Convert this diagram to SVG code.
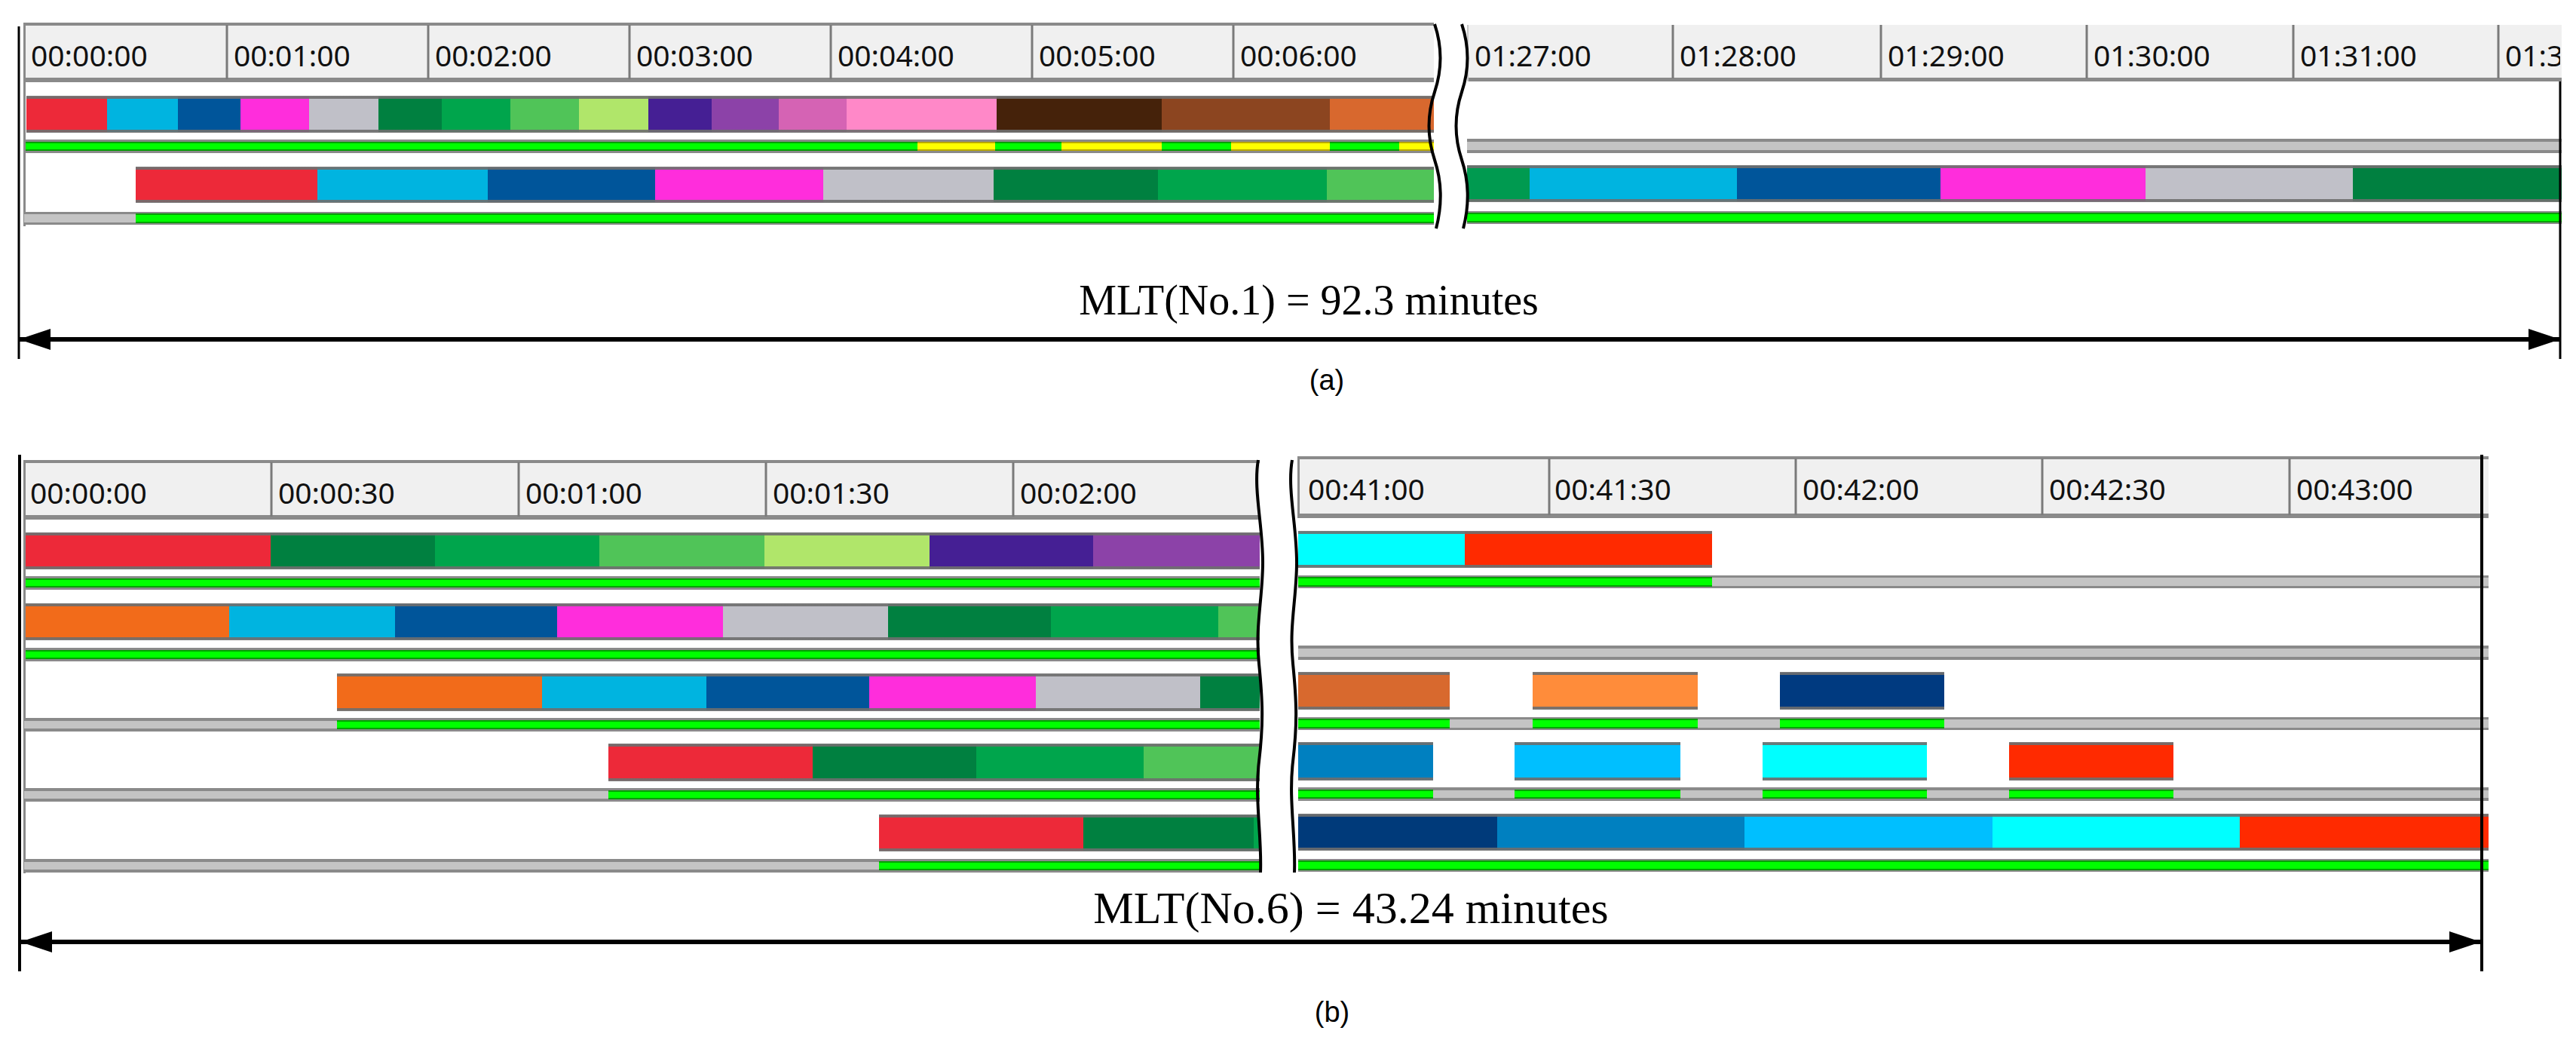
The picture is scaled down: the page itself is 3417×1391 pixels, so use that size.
<svg xmlns="http://www.w3.org/2000/svg" width="3417" height="1391" viewBox="0 0 3417 1391">
<style>
.hd{fill:#f0f0f0}
.hb{fill:#8a8a8a}
.dv{stroke:#7a7a7a;stroke-width:3}
.tl{font-family:"Noto Sans","Liberation Sans",sans-serif;font-size:39px;fill:#111}
.cap{font-family:"Liberation Serif",serif;fill:#000}
.sub{font-family:"Liberation Sans",sans-serif;font-size:38px;fill:#000}
.g{fill:url(#gG)}
.y{fill:url(#gY)}
.n{fill:url(#gN)}
.ov{fill:url(#gE)}
.brk{fill:none;stroke:#000;stroke-width:4}
.vl{stroke:#000;stroke-width:3}
.ar{stroke:#000;stroke-width:6;marker-start:url(#ah);marker-end:url(#ah)}
</style>
<defs>
<linearGradient id="gG" x1="0" y1="0" x2="0" y2="1">
<stop offset="0" stop-color="#8a8a8a"/><stop offset="0.14" stop-color="#8a8a8a"/>
<stop offset="0.14" stop-color="#00a000"/><stop offset="0.26" stop-color="#00a000"/>
<stop offset="0.26" stop-color="#00ff00"/><stop offset="0.74" stop-color="#00ff00"/>
<stop offset="0.74" stop-color="#00a000"/><stop offset="0.86" stop-color="#00a000"/>
<stop offset="0.86" stop-color="#8a8a8a"/><stop offset="1" stop-color="#8a8a8a"/>
</linearGradient>
<linearGradient id="gY" x1="0" y1="0" x2="0" y2="1">
<stop offset="0" stop-color="#8a8a8a"/><stop offset="0.14" stop-color="#8a8a8a"/>
<stop offset="0.14" stop-color="#b8a800"/><stop offset="0.26" stop-color="#b8a800"/>
<stop offset="0.26" stop-color="#ffff00"/><stop offset="0.74" stop-color="#ffff00"/>
<stop offset="0.74" stop-color="#b8a800"/><stop offset="0.86" stop-color="#b8a800"/>
<stop offset="0.86" stop-color="#8a8a8a"/><stop offset="1" stop-color="#8a8a8a"/>
</linearGradient>
<linearGradient id="gN" x1="0" y1="0" x2="0" y2="1">
<stop offset="0" stop-color="#8a8a8a"/><stop offset="0.2" stop-color="#8a8a8a"/>
<stop offset="0.2" stop-color="#c4c4c4"/><stop offset="0.8" stop-color="#c4c4c4"/>
<stop offset="0.8" stop-color="#8a8a8a"/><stop offset="1" stop-color="#8a8a8a"/>
</linearGradient>
<linearGradient id="gE" x1="0" y1="0" x2="0" y2="1">
<stop offset="0" stop-color="#6e6e6e" stop-opacity="0.9"/><stop offset="0.08" stop-color="#6e6e6e" stop-opacity="0.9"/>
<stop offset="0.08" stop-color="#6e6e6e" stop-opacity="0"/><stop offset="0.92" stop-color="#6e6e6e" stop-opacity="0"/>
<stop offset="0.92" stop-color="#6e6e6e" stop-opacity="0.9"/><stop offset="1" stop-color="#6e6e6e" stop-opacity="0.9"/>
</linearGradient>
<marker id="ah" markerUnits="userSpaceOnUse" markerWidth="42" markerHeight="30" viewBox="0 0 42 30" refX="41" refY="15" orient="auto-start-reverse">
<path d="M0,1 L42,15 L0,29 z" fill="#000"/>
</marker>
<clipPath id="clipAR"><rect x="1946" y="30" width="1450" height="80"/></clipPath>
</defs>
<rect width="3417" height="1391" fill="#fff"/>

<!-- ================= PANEL A ================= -->
<g id="a-header-left">
<rect class="hd" x="32" y="31" width="1870" height="77"/>
<rect class="hb" x="32" y="30" width="1870" height="4"/>
<rect class="hb" x="32" y="103" width="1870" height="6"/>
<rect class="hb" x="31" y="30" width="3" height="79"/>
<line class="dv" x1="301" y1="33" x2="301" y2="105"/>
<line class="dv" x1="568" y1="33" x2="568" y2="105"/>
<line class="dv" x1="835" y1="33" x2="835" y2="105"/>
<line class="dv" x1="1102" y1="33" x2="1102" y2="105"/>
<line class="dv" x1="1369" y1="33" x2="1369" y2="105"/>
<line class="dv" x1="1636" y1="33" x2="1636" y2="105"/>
<text class="tl" x="41" y="88">00:00:00</text>
<text class="tl" x="310" y="88">00:01:00</text>
<text class="tl" x="577" y="88">00:02:00</text>
<text class="tl" x="844" y="88">00:03:00</text>
<text class="tl" x="1111" y="88">00:04:00</text>
<text class="tl" x="1378" y="88">00:05:00</text>
<text class="tl" x="1645" y="88">00:06:00</text>
</g>
<g id="a-header-right">
<rect class="hd" x="1946" y="33" width="1452" height="75"/>
<rect class="hb" x="1946" y="103" width="1452" height="5"/>
<rect fill="#c8c8c8" x="1946" y="33" width="2" height="75"/>
<line class="dv" x1="2219" y1="33" x2="2219" y2="104"/>
<line class="dv" x1="2495" y1="33" x2="2495" y2="104"/>
<line class="dv" x1="2768" y1="33" x2="2768" y2="104"/>
<line class="dv" x1="3042" y1="33" x2="3042" y2="104"/>
<line class="dv" x1="3314" y1="33" x2="3314" y2="104"/>
<g clip-path="url(#clipAR)">
<text class="tl" x="1956" y="88">01:27:00</text>
<text class="tl" x="2228" y="88">01:28:00</text>
<text class="tl" x="2504" y="88">01:29:00</text>
<text class="tl" x="2777" y="88">01:30:00</text>
<text class="tl" x="3051" y="88">01:31:00</text>
<text class="tl" x="3323" y="88">01:3</text>
</g>
</g>
<rect id="a-left-border" class="hb" x="31" y="108" width="3" height="192"/>

<g id="a-row1">
<rect x="35" y="128" width="107" height="47" fill="#ed2939"/>
<rect x="142" y="128" width="94" height="47" fill="#00b4e0"/>
<rect x="236" y="128" width="83" height="47" fill="#00559a"/>
<rect x="319" y="128" width="91" height="47" fill="#ff2ddc"/>
<rect x="410" y="128" width="92" height="47" fill="#c0c0c8"/>
<rect x="502" y="128" width="84" height="47" fill="#008040"/>
<rect x="586" y="128" width="91" height="47" fill="#00a54c"/>
<rect x="677" y="128" width="91" height="47" fill="#50c458"/>
<rect x="768" y="128" width="92" height="47" fill="#b0e66a"/>
<rect x="860" y="128" width="84" height="47" fill="#451f94"/>
<rect x="944" y="128" width="89" height="47" fill="#8c42a8"/>
<rect x="1033" y="128" width="90" height="47" fill="#d563b4"/>
<rect x="1123" y="128" width="199" height="47" fill="#ff88c8"/>
<rect x="1322" y="128" width="219" height="47" fill="#45220a"/>
<rect x="1541" y="128" width="223" height="47" fill="#8c4520"/>
<rect x="1764" y="128" width="138" height="47" fill="#d8682e"/>
<rect class="ov" x="35" y="127" width="1867" height="49"/>
<rect class="g" x="34" y="185" width="1183" height="18"/>
<rect class="y" x="1217" y="185" width="103" height="18"/>
<rect class="g" x="1320" y="185" width="88" height="18"/>
<rect class="y" x="1408" y="185" width="133" height="18"/>
<rect class="g" x="1541" y="185" width="92" height="18"/>
<rect class="y" x="1633" y="185" width="131" height="18"/>
<rect class="g" x="1764" y="185" width="92" height="18"/>
<rect class="y" x="1856" y="185" width="46" height="18"/>
<rect class="n" x="1946" y="184" width="1452" height="19"/>
</g>

<g id="a-row2">
<rect x="180" y="222" width="241" height="46" fill="#ed2939"/>
<rect x="421" y="222" width="226" height="46" fill="#00b4e0"/>
<rect x="647" y="222" width="222" height="46" fill="#00559a"/>
<rect x="869" y="222" width="223" height="46" fill="#ff2ddc"/>
<rect x="1092" y="222" width="226" height="46" fill="#c0c0c8"/>
<rect x="1318" y="222" width="218" height="46" fill="#008040"/>
<rect x="1536" y="222" width="224" height="46" fill="#00a54c"/>
<rect x="1760" y="222" width="142" height="46" fill="#50c458"/>
<rect class="ov" x="180" y="221" width="1722" height="48"/>
<rect class="n" x="32" y="281" width="148" height="17"/>
<rect class="g" x="180" y="281" width="1722" height="17"/>
<rect x="1946" y="220" width="83" height="47" fill="#009a50"/>
<rect x="2029" y="220" width="275" height="47" fill="#00b4e0"/>
<rect x="2304" y="220" width="270" height="47" fill="#00559a"/>
<rect x="2574" y="220" width="272" height="47" fill="#ff2ddc"/>
<rect x="2846" y="220" width="275" height="47" fill="#c0c0c8"/>
<rect x="3121" y="220" width="277" height="47" fill="#008040"/>
<rect class="ov" x="1946" y="219" width="1452" height="49"/>
<rect class="g" x="1946" y="280" width="1452" height="17"/>
</g>

<g id="a-break">
<path class="brk" d="M1903,32 C1913,62 1913,92 1903,122 S1893,182 1903,212 S1913,272 1905,303"/>
<path class="brk" d="M1939,32 C1949,62 1949,92 1939,122 S1929,182 1939,212 S1949,272 1941,303"/>
</g>

<!-- ================= PANEL B ================= -->
<g id="b-header-left">
<rect class="hd" x="32" y="611" width="1639" height="77"/>
<rect class="hb" x="32" y="610" width="1639" height="4"/>
<rect class="hb" x="32" y="683" width="1639" height="6"/>
<rect class="hb" x="31" y="610" width="3" height="79"/>
<line class="dv" x1="360" y1="613" x2="360" y2="685"/>
<line class="dv" x1="688" y1="613" x2="688" y2="685"/>
<line class="dv" x1="1016" y1="613" x2="1016" y2="685"/>
<line class="dv" x1="1344" y1="613" x2="1344" y2="685"/>
<text class="tl" x="40" y="668">00:00:00</text>
<text class="tl" x="369" y="668">00:00:30</text>
<text class="tl" x="697" y="668">00:01:00</text>
<text class="tl" x="1025" y="668">00:01:30</text>
<text class="tl" x="1353" y="668">00:02:00</text>
</g>
<g id="b-header-right">
<rect class="hd" x="1722" y="606" width="1579" height="80"/>
<rect class="hb" x="1722" y="605" width="1579" height="4"/>
<rect class="hb" x="1722" y="681" width="1579" height="6"/>
<rect class="hb" x="1721" y="605" width="3" height="82"/>
<line class="dv" x1="2055" y1="608" x2="2055" y2="683"/>
<line class="dv" x1="2382" y1="608" x2="2382" y2="683"/>
<line class="dv" x1="2709" y1="608" x2="2709" y2="683"/>
<line class="dv" x1="3037" y1="608" x2="3037" y2="683"/>
<text class="tl" x="1735" y="663">00:41:00</text>
<text class="tl" x="2062" y="663">00:41:30</text>
<text class="tl" x="2391" y="663">00:42:00</text>
<text class="tl" x="2718" y="663">00:42:30</text>
<text class="tl" x="3046" y="663">00:43:00</text>
</g>
<rect id="b-left-border" class="hb" x="31" y="688" width="3" height="470"/>

<g id="b-row1">
<rect x="34" y="707" width="325" height="47" fill="#ed2939"/>
<rect x="359" y="707" width="218" height="47" fill="#008040"/>
<rect x="577" y="707" width="218" height="47" fill="#00a54c"/>
<rect x="795" y="707" width="219" height="47" fill="#50c458"/>
<rect x="1014" y="707" width="219" height="47" fill="#b0e66a"/>
<rect x="1233" y="707" width="217" height="47" fill="#451f94"/>
<rect x="1450" y="707" width="221" height="47" fill="#8c42a8"/>
<rect class="ov" x="34" y="706" width="1637" height="49"/>
<rect class="g" x="34" y="764" width="1637" height="18"/>
<rect x="1722" y="705" width="221" height="47" fill="#00ffff"/>
<rect x="1943" y="705" width="328" height="47" fill="#ff2a00"/>
<rect class="ov" x="1722" y="704" width="549" height="49"/>
<rect class="g" x="1722" y="763" width="549" height="17"/>
<rect class="n" x="2271" y="763" width="1030" height="17"/>
</g>

<g id="b-row2">
<rect x="34" y="801" width="270" height="47" fill="#f26b1a"/>
<rect x="304" y="801" width="220" height="47" fill="#00b4e0"/>
<rect x="524" y="801" width="215" height="47" fill="#00559a"/>
<rect x="739" y="801" width="220" height="47" fill="#ff2ddc"/>
<rect x="959" y="801" width="219" height="47" fill="#c0c0c8"/>
<rect x="1178" y="801" width="216" height="47" fill="#008040"/>
<rect x="1394" y="801" width="222" height="47" fill="#00a54c"/>
<rect x="1616" y="801" width="55" height="47" fill="#50c458"/>
<rect class="ov" x="34" y="800" width="1637" height="49"/>
<rect class="g" x="34" y="859" width="1637" height="18"/>
<rect class="n" x="1722" y="856" width="1579" height="19"/>
</g>

<g id="b-row3">
<rect x="447" y="894" width="272" height="48" fill="#f26b1a"/>
<rect x="719" y="894" width="218" height="48" fill="#00b4e0"/>
<rect x="937" y="894" width="216" height="48" fill="#00559a"/>
<rect x="1153" y="894" width="221" height="48" fill="#ff2ddc"/>
<rect x="1374" y="894" width="218" height="48" fill="#c0c0c8"/>
<rect x="1592" y="894" width="79" height="48" fill="#008040"/>
<rect class="ov" x="447" y="893" width="1224" height="50"/>
<rect class="n" x="32" y="952" width="415" height="18"/>
<rect class="g" x="447" y="952" width="1224" height="18"/>
<rect x="1722" y="892" width="201" height="48" fill="#d8692e"/>
<rect x="2033" y="892" width="219" height="48" fill="#ff8c3a"/>
<rect x="2361" y="892" width="218" height="48" fill="#003a80"/>
<rect class="ov" x="1722" y="891" width="201" height="50"/>
<rect class="ov" x="2033" y="891" width="219" height="50"/>
<rect class="ov" x="2361" y="891" width="218" height="50"/>
<rect class="g" x="1722" y="951" width="201" height="17"/>
<rect class="n" x="1923" y="951" width="110" height="17"/>
<rect class="g" x="2033" y="951" width="219" height="17"/>
<rect class="n" x="2252" y="951" width="109" height="17"/>
<rect class="g" x="2361" y="951" width="218" height="17"/>
<rect class="n" x="2579" y="951" width="722" height="17"/>
</g>

<g id="b-row4">
<rect x="807" y="987" width="271" height="48" fill="#ed2939"/>
<rect x="1078" y="987" width="217" height="48" fill="#008040"/>
<rect x="1295" y="987" width="222" height="48" fill="#00a54c"/>
<rect x="1517" y="987" width="154" height="48" fill="#50c458"/>
<rect class="ov" x="807" y="986" width="864" height="50"/>
<rect class="n" x="32" y="1045" width="775" height="18"/>
<rect class="g" x="807" y="1045" width="864" height="18"/>
<rect x="1722" y="985" width="179" height="49" fill="#0080c0"/>
<rect x="2009" y="985" width="220" height="49" fill="#00bfff"/>
<rect x="2338" y="985" width="218" height="49" fill="#00ffff"/>
<rect x="2665" y="985" width="218" height="49" fill="#ff2a00"/>
<rect class="ov" x="1722" y="984" width="179" height="51"/>
<rect class="ov" x="2009" y="984" width="220" height="51"/>
<rect class="ov" x="2338" y="984" width="218" height="51"/>
<rect class="ov" x="2665" y="984" width="218" height="51"/>
<rect class="g" x="1722" y="1044" width="179" height="18"/>
<rect class="n" x="1901" y="1044" width="108" height="18"/>
<rect class="g" x="2009" y="1044" width="220" height="18"/>
<rect class="n" x="2229" y="1044" width="109" height="18"/>
<rect class="g" x="2338" y="1044" width="218" height="18"/>
<rect class="n" x="2556" y="1044" width="109" height="18"/>
<rect class="g" x="2665" y="1044" width="218" height="18"/>
<rect class="n" x="2883" y="1044" width="418" height="18"/>
</g>

<g id="b-row5">
<rect x="1166" y="1081" width="271" height="47" fill="#ed2939"/>
<rect x="1437" y="1081" width="226" height="47" fill="#008040"/>
<rect x="1663" y="1081" width="8" height="47" fill="#00a54c"/>
<rect class="ov" x="1166" y="1080" width="505" height="49"/>
<rect class="n" x="32" y="1139" width="1134" height="18"/>
<rect class="g" x="1166" y="1139" width="505" height="18"/>
<rect x="1722" y="1080" width="264" height="47" fill="#003a7a"/>
<rect x="1986" y="1080" width="328" height="47" fill="#0080c0"/>
<rect x="2314" y="1080" width="329" height="47" fill="#00bfff"/>
<rect x="2643" y="1080" width="328" height="47" fill="#00ffff"/>
<rect x="2971" y="1080" width="330" height="47" fill="#ff2a00"/>
<rect class="ov" x="1722" y="1079" width="1579" height="49"/>
<rect class="g" x="1722" y="1139" width="1579" height="17"/>
</g>

<g id="b-break">
<path class="brk" d="M1669,610 C1662,650 1676,700 1675,750 C1674,800 1665,830 1670,880 C1675,930 1676,960 1670,1010 C1664,1060 1674,1110 1672,1157"/>
<path class="brk" d="M1714,610 C1707,650 1721,700 1720,750 C1719,800 1710,830 1715,880 C1720,930 1721,960 1715,1010 C1709,1060 1719,1110 1717,1157"/>
</g>

<!-- ================= DIMENSIONS / CONNECTORS ================= -->
<g id="connectors">
<line class="vl" x1="25" y1="35" x2="25" y2="476"/>
<line class="vl" x1="3396" y1="108" x2="3396" y2="476"/>
<line class="ar" x1="26" y1="450" x2="3395" y2="450"/>
<line class="vl" x1="26" y1="603" x2="26" y2="1288" style="stroke-width:4"/>
<line class="vl" x1="3292" y1="603" x2="3292" y2="1288" style="stroke-width:4"/>
<line class="ar" x1="28" y1="1249" x2="3290" y2="1249"/>
</g>

<g id="labels">
<text class="cap" x="1736" y="417" font-size="56" text-anchor="middle">MLT(No.1) = 92.3 minutes</text>
<text class="sub" x="1760" y="517" text-anchor="middle">(a)</text>
<text class="cap" x="1792" y="1224" font-size="60" text-anchor="middle">MLT(No.6) = 43.24 minutes</text>
<text class="sub" x="1767" y="1355" text-anchor="middle">(b)</text>
</g>
</svg>
